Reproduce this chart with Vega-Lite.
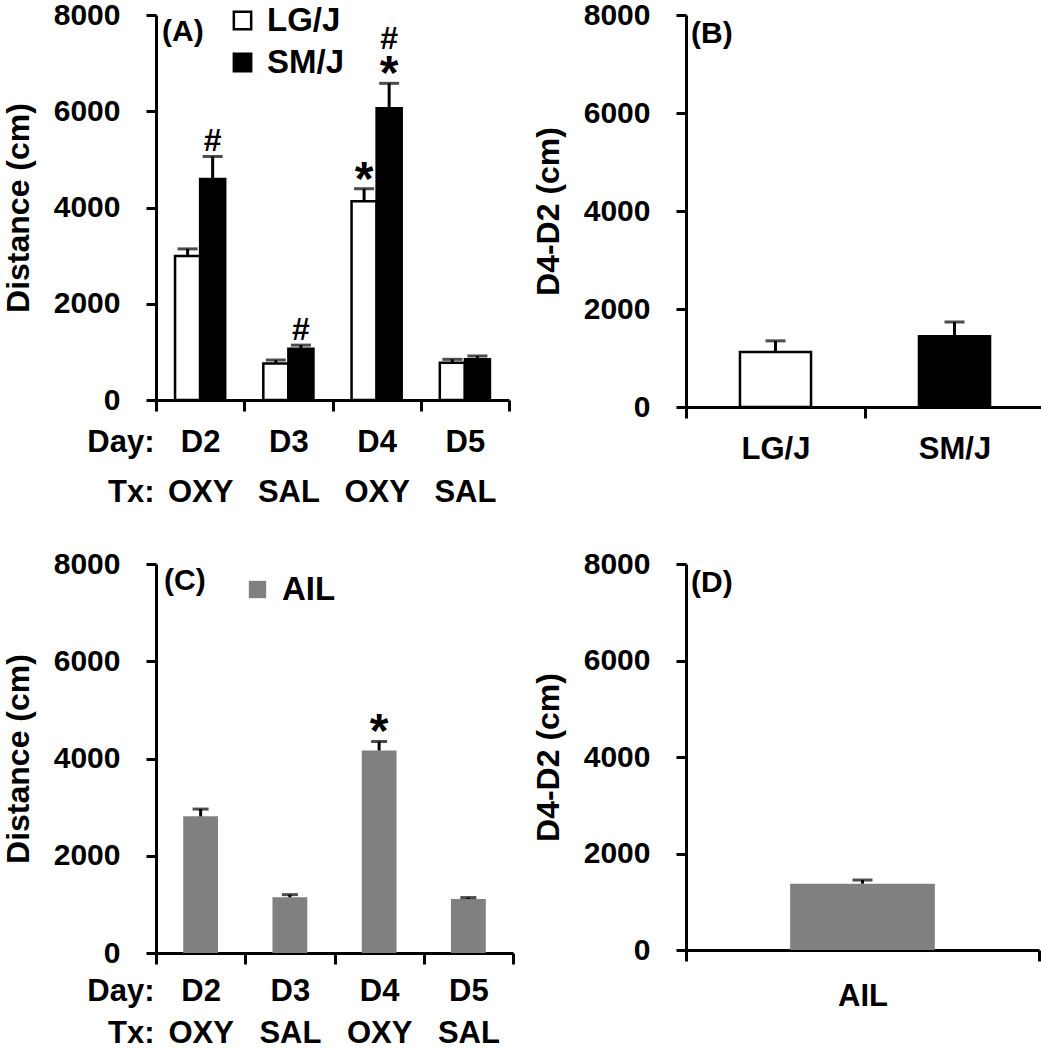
{
  "$schema": "https://vega.github.io/schema/vega-lite/v6.json",
  "padding": {"left": 2, "top": 0, "right": 0, "bottom": 0},
  "background": "white",
  "config": {
    "font": "Liberation Sans",
    "view": {"stroke": null},
    "axis": {"grid": false, "domainColor": "black", "domainWidth": 3, "tickColor": "black", "tickWidth": 3, "labelColor": "black", "titleColor": "black", "labelFontWeight": "bold", "titleFontWeight": "bold"},
    "axisY": {"labelFontSize": 30, "titleFontSize": 32, "tickSize": 10, "labelPadding": 26, "titlePadding": 18},
    "axisX": {"labelFontSize": 31, "tickSize": 11, "labelPadding": 16, "labelAngle": 0}
  },
  "datasets": {
    "ab": [
      {"strain": "LG/J", "day": "D2 OXY", "mean": 2990, "upper": 3140, "star": "", "hash": ""},
      {"strain": "SM/J", "day": "D2 OXY", "mean": 4590, "upper": 5060, "star": "", "hash": "#"},
      {"strain": "LG/J", "day": "D3 SAL", "mean": 760, "upper": 830, "star": "", "hash": ""},
      {"strain": "SM/J", "day": "D3 SAL", "mean": 1065, "upper": 1140, "star": "", "hash": "#"},
      {"strain": "LG/J", "day": "D4 OXY", "mean": 4130, "upper": 4390, "star": "*", "hash": ""},
      {"strain": "SM/J", "day": "D4 OXY", "mean": 6060, "upper": 6580, "star": "*", "hash": "#"},
      {"strain": "LG/J", "day": "D5 SAL", "mean": 775, "upper": 845, "star": "", "hash": ""},
      {"strain": "SM/J", "day": "D5 SAL", "mean": 845, "upper": 915, "star": "", "hash": ""}
    ],
    "b": [
      {"strain": "LG/J", "mean": 1120, "upper": 1350},
      {"strain": "SM/J", "mean": 1445, "upper": 1735}
    ],
    "c": [
      {"group": "AIL", "day": "D2 OXY", "mean": 2810, "upper": 2960, "star": ""},
      {"group": "AIL", "day": "D3 SAL", "mean": 1145, "upper": 1200, "star": ""},
      {"group": "AIL", "day": "D4 OXY", "mean": 4165, "upper": 4350, "star": "*"},
      {"group": "AIL", "day": "D5 SAL", "mean": 1110, "upper": 1140, "star": ""}
    ],
    "d": [
      {"group": "AIL", "mean": 1375, "upper": 1450}
    ]
  },
  "resolve": {"scale": {"fill": "independent"}, "legend": {"fill": "independent"}},
  "spacing": 42,
  "vconcat": [
    {
      "spacing": 21,
      "resolve": {"scale": {"fill": "independent"}, "legend": {"fill": "independent"}},
      "hconcat": [
        {
          "width": 353, "height": 385,
          "data": {"name": "ab"},
          "encoding": {
            "x": {"field": "day", "type": "nominal", "scale": {"paddingInner": 0, "paddingOuter": 0},
                  "axis": {"title": ["Day:", "Tx:"], "labelExpr": "isValid(datum.value) ? split(datum.value, ' ') : ''", "tickBand": "extent", "labelLineHeight": 50,
                           "titleAlign": "right", "titleAnchor": "start", "titleX": -2, "titleY": 27, "titleBaseline": "top", "titleLineHeight": 50, "titleFontSize": 31, "titleAngle": 0}},
            "y": {"field": "mean", "type": "quantitative", "scale": {"domain": [0, 8000]},
                  "axis": {"title": "Distance (cm)", "values": [0, 2000, 4000, 6000, 8000], "format": "d"}}
          },
          "layer": [
            {"mark": {"type": "bar", "stroke": "black", "strokeWidth": 2.5},
             "encoding": {
               "xOffset": {"field": "strain", "type": "nominal", "scale": {"paddingInner": 0, "paddingOuter": 0.76}},
               "fill": {"field": "strain", "type": "nominal", "scale": {"domain": ["LG/J", "SM/J"], "range": ["white", "black"]},
                "legend": {"orient": "none", "legendX": 70, "legendY": -11, "title": null, "symbolType": "square", "symbolSize": 300, "symbolStrokeColor": "black", "symbolStrokeWidth": 2.5, "labelFontSize": 33, "labelFontWeight": "bold", "labelColor": "black", "rowPadding": 8, "labelOffset": 8}}}},
            {"mark": {"type": "rule", "strokeWidth": 3, "color": "black"},
             "encoding": {"xOffset": {"field": "strain", "type": "nominal"}, "y2": {"field": "upper"}}},
            {"mark": {"type": "tick", "thickness": 3, "size": 20, "color": "black"},
             "encoding": {"xOffset": {"field": "strain", "type": "nominal"}, "y": {"field": "upper", "type": "quantitative", "title": "Distance (cm)"}}},
            {"transform": [{"filter": "datum.star == '*'"}],
             "mark": {"type": "text", "text": "*", "fontSize": 48, "fontWeight": "bold", "baseline": "alphabetic", "dy": 6, "color": "black"},
             "encoding": {"xOffset": {"field": "strain", "type": "nominal"}, "y": {"field": "upper", "type": "quantitative", "title": "Distance (cm)"}}},
            {"transform": [{"filter": "datum.hash == '#' && datum.star == ''"}],
             "mark": {"type": "text", "text": "#", "fontSize": 32, "fontWeight": "bold", "baseline": "alphabetic", "dy": -5, "color": "black"},
             "encoding": {"xOffset": {"field": "strain", "type": "nominal"}, "y": {"field": "upper", "type": "quantitative", "title": "Distance (cm)"}}},
            {"transform": [{"filter": "datum.hash == '#' && datum.star == '*'"}],
             "mark": {"type": "text", "text": "#", "fontSize": 32, "fontWeight": "bold", "baseline": "alphabetic", "dy": -34, "color": "black"},
             "encoding": {"xOffset": {"field": "strain", "type": "nominal"}, "y": {"field": "upper", "type": "quantitative", "title": "Distance (cm)"}}},
            {"transform": [{"filter": "datum.day == 'D2 OXY' && datum.strain == 'LG/J'"}],
             "mark": {"type": "text", "text": "(A)", "align": "left", "baseline": "top", "dx": 6, "dy": 2, "fontSize": 30, "fontWeight": "bold", "color": "black"},
             "encoding": {"x": {"field": "day", "type": "nominal", "bandPosition": 0}, "y": {"datum": 8000, "type": "quantitative"}}}
          ]
        },
        {
          "width": 358, "height": 392,
          "data": {"name": "b"},
          "encoding": {
            "x": {"field": "strain", "type": "nominal", "scale": {"paddingInner": 0, "paddingOuter": 0},
                  "axis": {"title": null, "tickBand": "extent", "labelPadding": 16, "labelExpr": "isValid(datum.value) ? datum.value : ''"}},
            "y": {"field": "mean", "type": "quantitative", "scale": {"domain": [0, 8000]},
                  "axis": {"title": "D4-D2 (cm)", "values": [0, 2000, 4000, 6000, 8000], "format": "d"}}
          },
          "layer": [
            {"mark": {"type": "bar", "stroke": "black", "strokeWidth": 2.5, "width": {"band": 0.397}},
             "encoding": {"fill": {"field": "strain", "type": "nominal", "scale": {"domain": ["LG/J", "SM/J"], "range": ["white", "black"]}, "legend": null}}},
            {"mark": {"type": "rule", "strokeWidth": 3, "color": "black"}, "encoding": {"y2": {"field": "upper"}}},
            {"mark": {"type": "tick", "thickness": 3, "size": 20, "color": "black"}, "encoding": {"y": {"field": "upper", "type": "quantitative", "title": "D4-D2 (cm)"}}},
            {"transform": [{"filter": "datum.strain == 'LG/J'"}],
             "mark": {"type": "text", "text": "(B)", "align": "left", "baseline": "top", "dx": 5, "dy": 4, "fontSize": 30, "fontWeight": "bold", "color": "black"},
             "encoding": {"x": {"field": "strain", "type": "nominal", "bandPosition": 0}, "y": {"datum": 8000, "type": "quantitative"}}}
          ]
        }
      ]
    },
    {
      "spacing": 17,
      "resolve": {"scale": {"fill": "independent"}, "legend": {"fill": "independent"}},
      "hconcat": [
        {
          "width": 357, "height": 389,
          "data": {"name": "c"},
          "encoding": {
            "x": {"field": "day", "type": "nominal", "scale": {"paddingInner": 0, "paddingOuter": 0},
                  "axis": {"title": ["Day:", "Tx:"], "labelExpr": "isValid(datum.value) ? split(datum.value, ' ') : ''", "tickBand": "extent", "labelLineHeight": 42, "labelPadding": 12,
                           "titleAlign": "right", "titleAnchor": "start", "titleX": -2, "titleY": 23, "titleBaseline": "top", "titleLineHeight": 42, "titleFontSize": 31, "titleAngle": 0}},
            "y": {"field": "mean", "type": "quantitative", "scale": {"domain": [0, 8000]},
                  "axis": {"title": "Distance (cm)", "values": [0, 2000, 4000, 6000, 8000], "format": "d"}}
          },
          "layer": [
            {"mark": {"type": "bar", "width": {"band": 0.39}},
             "encoding": {"fill": {"field": "group", "type": "nominal", "scale": {"domain": ["AIL"], "range": ["#808080"]},
                "legend": {"orient": "none", "legendX": 85, "legendY": 9, "title": null, "symbolType": "square", "symbolSize": 300, "symbolStrokeWidth": 0, "labelFontSize": 33, "labelFontWeight": "bold", "labelColor": "black", "labelOffset": 8}}}},
            {"mark": {"type": "rule", "strokeWidth": 3, "color": "black"}, "encoding": {"y2": {"field": "upper"}}},
            {"mark": {"type": "tick", "thickness": 3, "size": 16, "color": "black"}, "encoding": {"y": {"field": "upper", "type": "quantitative", "title": "Distance (cm)"}}},
            {"transform": [{"filter": "datum.star == '*'"}],
             "mark": {"type": "text", "text": "*", "fontSize": 48, "fontWeight": "bold", "baseline": "alphabetic", "dy": 6, "color": "black"},
             "encoding": {"y": {"field": "upper", "type": "quantitative", "title": "Distance (cm)"}}},
            {"transform": [{"filter": "datum.day == 'D2 OXY'"}],
             "mark": {"type": "text", "text": "(C)", "align": "left", "baseline": "top", "dx": 8, "dy": 2, "fontSize": 30, "fontWeight": "bold", "color": "black"},
             "encoding": {"x": {"field": "day", "type": "nominal", "bandPosition": 0}, "y": {"datum": 8000, "type": "quantitative"}}}
          ]
        },
        {
          "width": 353, "height": 386,
          "data": {"name": "d"},
          "encoding": {
            "x": {"field": "group", "type": "nominal", "scale": {"paddingInner": 0, "paddingOuter": 0},
                  "axis": {"title": null, "tickBand": "extent", "labelPadding": 20, "labelExpr": "isValid(datum.value) ? datum.value : ''"}},
            "y": {"field": "mean", "type": "quantitative", "scale": {"domain": [0, 8000]},
                  "axis": {"title": "D4-D2 (cm)", "values": [0, 2000, 4000, 6000, 8000], "format": "d"}}
          },
          "layer": [
            {"mark": {"type": "bar", "width": {"band": 0.41}},
             "encoding": {"fill": {"field": "group", "type": "nominal", "scale": {"domain": ["AIL"], "range": ["#808080"]}, "legend": null}}},
            {"mark": {"type": "rule", "strokeWidth": 3, "color": "black"}, "encoding": {"y2": {"field": "upper"}}},
            {"mark": {"type": "tick", "thickness": 3, "size": 20, "color": "black"}, "encoding": {"y": {"field": "upper", "type": "quantitative", "title": "D4-D2 (cm)"}}},
            {"mark": {"type": "text", "text": "(D)", "align": "left", "baseline": "top", "dx": 5, "dy": 4, "fontSize": 30, "fontWeight": "bold", "color": "black"},
             "encoding": {"x": {"field": "group", "type": "nominal", "bandPosition": 0}, "y": {"datum": 8000, "type": "quantitative"}}}
          ]
        }
      ]
    }
  ]
}
